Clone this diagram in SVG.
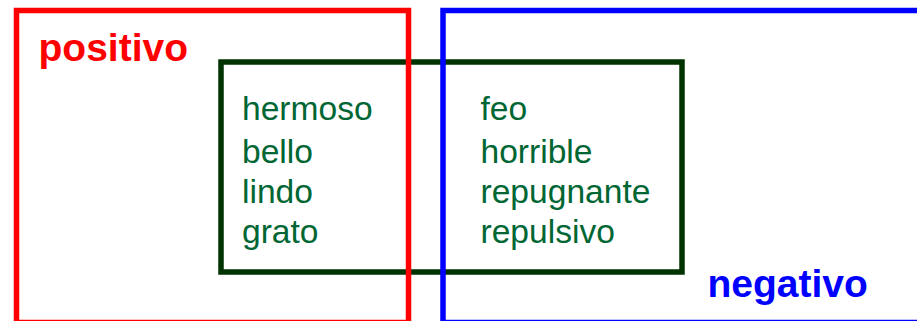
<svg xmlns="http://www.w3.org/2000/svg" width="917" height="321" viewBox="0 0 917 321">
<style>
.box{fill:none;stroke-width:5.5}
.word{font-family:"Liberation Sans",Arial,sans-serif;font-size:33.6px;fill:#006633}
.lab{font-family:"Liberation Sans",Arial,sans-serif;font-size:39px;font-weight:bold}
</style>
<rect width="917" height="321" fill="#fff"/>
<g id="overlap">
<rect class="box" x="221" y="62" width="461" height="210" stroke="#003300"/>
<text class="word" x="242" y="120">hermoso</text>
<text class="word" x="242" y="163">bello</text>
<text class="word" x="242" y="203">lindo</text>
<text class="word" x="242" y="243">grato</text>
<text class="word" x="480.5" y="120">feo</text>
<text class="word" x="480.5" y="163">horrible</text>
<text class="word" x="480.5" y="203">repugnante</text>
<text class="word" x="480.5" y="243">repulsivo</text>
</g>
<g id="positivo">
<rect class="box" x="16.5" y="10.5" width="392" height="312" stroke="#ff0000"/>
<text class="lab" x="38.5" y="61" fill="#ff0000">positivo</text>
</g>
<g id="negativo">
<rect class="box" x="443" y="10.5" width="480" height="312" stroke="#0000ff"/>
<text class="lab" x="707.5" y="297" fill="#0000ff">negativo</text>
</g>
<g id="connectors"/>
</svg>
